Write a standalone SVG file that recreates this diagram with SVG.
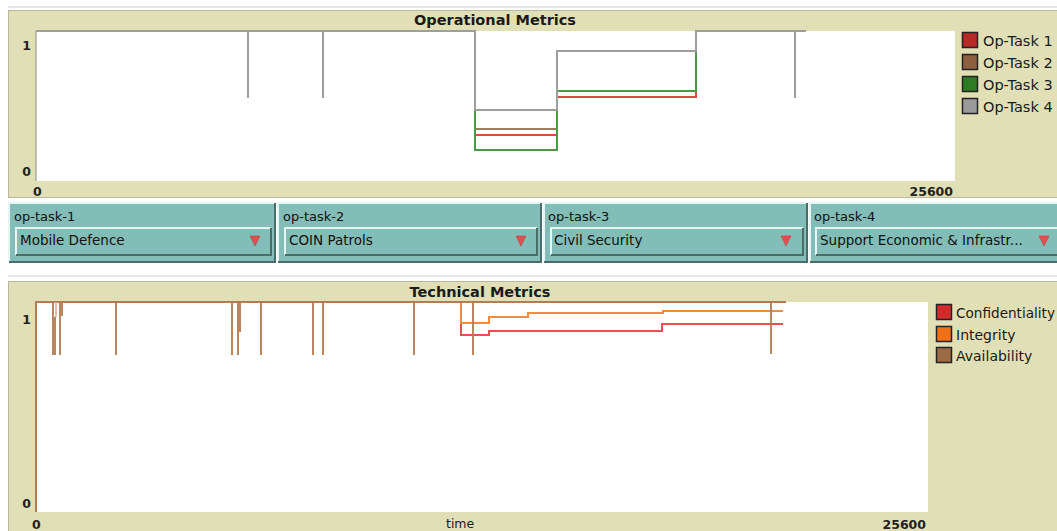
<svg xmlns="http://www.w3.org/2000/svg" width="1057" height="531" viewBox="0 0 1057 531">
  <style>
    .panel { fill: #e1dfb5; stroke: #b9b8a0; stroke-width: 1; }
    .plot { fill: #ffffff; }
    .title { font-family: "DejaVu Sans", sans-serif; font-weight: bold; font-size: 14.5px; fill: #1a1a1a; }
    .tick { font-family: "DejaVu Sans", sans-serif; font-weight: bold; font-size: 12.5px; fill: #222; }
    .leg { font-family: "DejaVu Sans", sans-serif; font-size: 14.5px; fill: #1a1a1a; }
    .leg2 { font-family: "DejaVu Sans", sans-serif; font-size: 14px; fill: #1a1a1a; }
    .wlabel { font-family: "DejaVu Sans", sans-serif; font-size: 13px; fill: #111; }
    .wvalue { font-family: "DejaVu Sans", sans-serif; font-size: 13.5px; fill: #111; }
    .swatch { stroke: #222; stroke-width: 1.5; }
    .series { fill: none; stroke-width: 2; }
    .widget { fill: #82bdb7; }
    .box { fill: #82bdb7; }
    .hi { stroke: #e6f6f4; stroke-width: 2; fill: none; }
    .lo { stroke: #4a6d69; stroke-width: 2; fill: none; }
    .arrow { fill: #e05050; stroke: #b03a3a; stroke-width: 0.5; }
  </style>

  <rect width="1057" height="531" fill="#ffffff"/>
  <line x1="8" y1="7" x2="1057" y2="7" stroke="#d0d0d8" stroke-width="1"/>
  <line x1="8" y1="276" x2="1057" y2="276" stroke="#d0d0d8" stroke-width="1"/>

  <!-- Operational Metrics plot -->
  <g id="op-plot">
    <rect class="panel" x="8.5" y="10.5" width="1050" height="187"/>
    <rect class="plot" x="36" y="31" width="919" height="150"/>
    <line x1="36" y1="31" x2="36" y2="181" stroke="#8a8a8a" stroke-width="1"/>
    <text class="title" x="495" y="25" text-anchor="middle">Operational Metrics</text>
    <text class="tick" x="31" y="50" text-anchor="end">1</text>
    <text class="tick" x="31" y="176" text-anchor="end">0</text>
    <text class="tick" x="33" y="196">0</text>
    <text class="tick" x="953" y="196" text-anchor="end">25600</text>
    <g id="op-legend">
      <rect class="swatch" x="962.5" y="32.5" width="15" height="15" fill="#b82a28"/>
      <text class="leg" x="983" y="46">Op-Task 1</text>
      <rect class="swatch" x="962.5" y="54.5" width="15" height="15" fill="#8e6040"/>
      <text class="leg" x="983" y="68">Op-Task 2</text>
      <rect class="swatch" x="962.5" y="76.5" width="15" height="15" fill="#2f7a27"/>
      <text class="leg" x="983" y="90">Op-Task 3</text>
      <rect class="swatch" x="962.5" y="98.5" width="15" height="15" fill="#9a9a9a"/>
      <text class="leg" x="983" y="112">Op-Task 4</text>
    </g>
  </g>

  <!-- Operational series -->
  <g id="op-series">
    <polyline class="series" stroke="#a87a52" points="475,129 557,129"/>
    <polyline class="series" stroke="#e04848" points="475,135 557,135"/>
    <polyline class="series" stroke="#e04848" points="557,97 696,97 696,91"/>
    <polyline class="series" stroke="#4a9a44" points="475,110 475,150 557,150 557,91 696,91 696,51"/>
    <polyline class="series" stroke="#9e9e9e" points="36,31 475,31 475,110 557,110 557,51 696,51 696,31 806,31"/>
    <line class="series" stroke="#9e9e9e" x1="248" y1="31" x2="248" y2="98"/>
    <line class="series" stroke="#9e9e9e" x1="323" y1="31" x2="323" y2="98"/>
    <line class="series" stroke="#9e9e9e" x1="795" y1="31" x2="795" y2="98"/>
  </g>

  <!-- Task choosers -->
  <g id="chooser-1">
    <rect class="widget" x="9" y="203" width="266" height="59"/>
    <path class="hi" d="M9,262 V203 H275"/>
    <path class="lo" d="M275,203 V262 H9"/>
    <text class="wlabel" x="14" y="221">op-task-1</text>
    <rect class="box" x="15" y="227" width="256" height="28"/>
    <path class="hi" d="M16,255 V228 H271"/>
    <path class="lo" d="M271,228 V255 H16"/>
    <text class="wvalue" x="20" y="245">Mobile Defence</text>
    <polygon class="arrow" points="250,236 260,236 255,246"/>
  </g>
  <g id="chooser-2">
    <rect class="widget" x="278" y="203" width="263" height="59"/>
    <path class="hi" d="M278,262 V203 H541"/>
    <path class="lo" d="M541,203 V262 H278"/>
    <text class="wlabel" x="283" y="221">op-task-2</text>
    <rect class="box" x="284" y="227" width="253" height="28"/>
    <path class="hi" d="M285,255 V228 H537"/>
    <path class="lo" d="M537,228 V255 H285"/>
    <text class="wvalue" x="289" y="245">COIN Patrols</text>
    <polygon class="arrow" points="516,236 526,236 521,246"/>
  </g>
  <g id="chooser-3">
    <rect class="widget" x="544" y="203" width="263" height="59"/>
    <path class="hi" d="M544,262 V203 H807"/>
    <path class="lo" d="M807,203 V262 H544"/>
    <text class="wlabel" x="548" y="221">op-task-3</text>
    <rect class="box" x="550" y="227" width="253" height="28"/>
    <path class="hi" d="M551,255 V228 H803"/>
    <path class="lo" d="M803,228 V255 H551"/>
    <text class="wvalue" x="554" y="245">Civil Security</text>
    <polygon class="arrow" points="781,236 791,236 786,246"/>
  </g>
  <g id="chooser-4">
    <rect class="widget" x="810" y="203" width="250" height="59"/>
    <path class="hi" d="M810,262 V203 H1060"/>
    <path class="lo" d="M1060,203 V262 H810"/>
    <text class="wlabel" x="814" y="221">op-task-4</text>
    <rect class="box" x="815" y="227" width="245" height="28"/>
    <path class="hi" d="M816,255 V228 H1060"/>
    <path class="lo" d="M1060,228 V255 H816"/>
    <text class="wvalue" x="820" y="245">Support Economic &amp; Infrastr...</text>
    <polygon class="arrow" points="1039,236 1049,236 1044,246"/>
  </g>

  <!-- Technical Metrics plot -->
  <g id="tech-plot">
    <rect class="panel" x="8.5" y="281.5" width="1050" height="252"/>
    <rect class="plot" x="36" y="302" width="892" height="210"/>
    <text class="title" x="480" y="297" text-anchor="middle">Technical Metrics</text>
    <text class="tick" x="31" y="324" text-anchor="end">1</text>
    <text class="tick" x="31" y="508" text-anchor="end">0</text>
    <text class="tick" x="32" y="529">0</text>
    <text class="tick" x="446" y="528" style="font-weight:normal">time</text>
    <text class="tick" x="926" y="529" text-anchor="end">25600</text>
    <g id="tech-legend">
      <rect class="swatch" x="936.5" y="304.5" width="15" height="15" fill="#d42c2c"/>
      <text class="leg2" x="956" y="318" textLength="99" lengthAdjust="spacingAndGlyphs">Confidentiality</text>
      <rect class="swatch" x="936.5" y="326.5" width="15" height="15" fill="#f07018"/>
      <text class="leg2" x="956" y="340">Integrity</text>
      <rect class="swatch" x="936.5" y="347.5" width="15" height="15" fill="#9c6a44"/>
      <text class="leg2" x="956" y="361">Availability</text>
    </g>
  </g>

  <!-- Technical series -->
  <g id="tech-series">
    <polyline class="series" stroke="#e85050" points="461,323 461,335 489,335 489,331 662,331 662,324 783,324"/>
    <polyline class="series" stroke="#f58a3c" points="461,302 461,323 489,323 489,317 528,317 528,313 663,313 663,311 783,311"/>
    <polyline class="series" stroke="#b47c52" points="36,512 36,302 786,302"/>
    <g stroke="#b07a50" stroke-width="1.8">
      <line x1="53" y1="302" x2="53" y2="355"/>
      <line x1="56" y1="302" x2="56" y2="317" stroke="#dcbca4"/>
      <line x1="55" y1="317" x2="55" y2="355"/>
      <line x1="60" y1="302" x2="60" y2="355"/>
      <line x1="62" y1="302" x2="62" y2="316"/>
      <line x1="116" y1="302" x2="116" y2="355"/>
      <line x1="232" y1="302" x2="232" y2="355"/>
      <line x1="238" y1="302" x2="238" y2="355"/>
      <line x1="240" y1="302" x2="240" y2="332"/>
      <line x1="261" y1="302" x2="261" y2="355"/>
      <line x1="313" y1="302" x2="313" y2="355"/>
      <line x1="323" y1="302" x2="323" y2="355"/>
      <line x1="414" y1="302" x2="414" y2="355"/>
      <line x1="473" y1="302" x2="473" y2="355"/>
      <line x1="771" y1="302" x2="771" y2="354"/>
    </g>
  </g>
</svg>
